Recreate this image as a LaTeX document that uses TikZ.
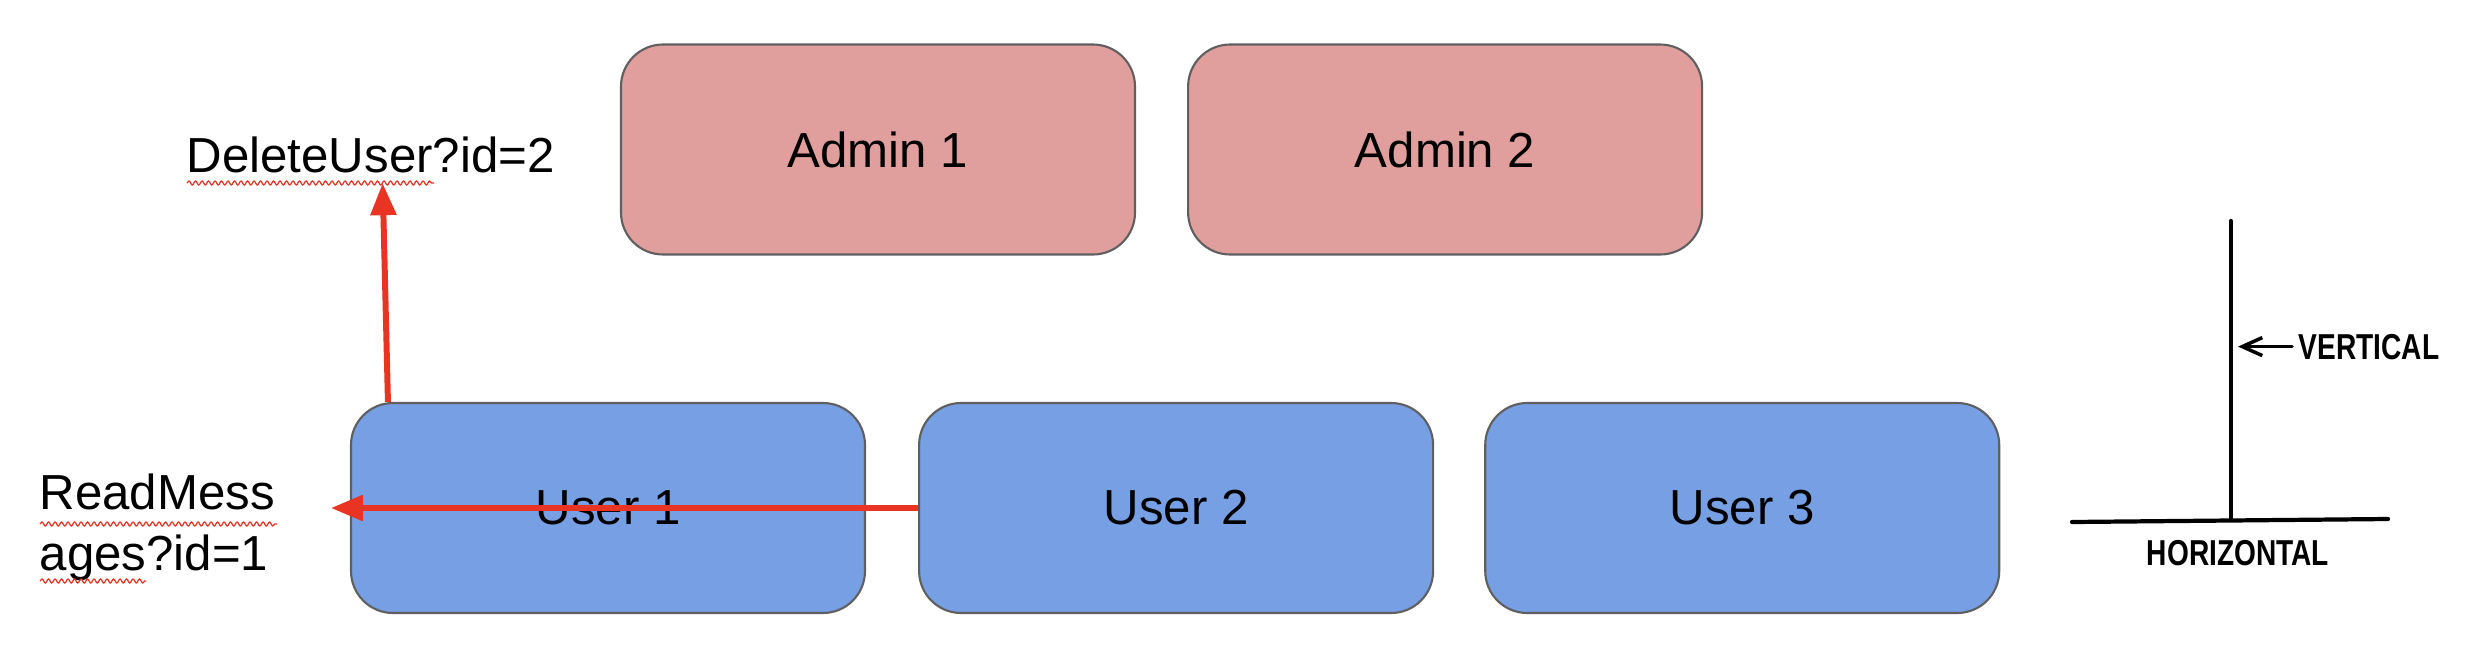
\documentclass[tikz,border=0pt]{standalone}
\usepackage{fontspec}
\setmainfont{Liberation Sans}
\newfontfamily\tagfont[FakeStretch=0.78]{Liberation Sans}
\usetikzlibrary{positioning,arrows.meta,decorations.pathmorphing}
\definecolor{adminred}{HTML}{E09E9C}
\definecolor{userblue}{HTML}{779FE4}
\definecolor{boxline}{HTML}{5F5F5F}
\definecolor{linkred}{HTML}{E93323}
\begin{document}
\begin{tikzpicture}[
  font=\fontsize{14}{17.2}\selectfont,
  role/.style={draw=boxline,line width=0.6pt,rounded corners=0.42cm,
    minimum width=5.14cm,minimum height=2.1cm,inner sep=0pt},
  admin/.style={role,fill=adminred},
  user/.style={role,fill=userblue},
  call/.style={inner sep=0pt,align=left},
  link/.style={draw=linkred,line width=1.7pt,-{Triangle[length=0.32cm,width=0.25cm]}},
  squiggle/.style={draw=linkred,line width=0.35pt,decorate,
    decoration={snake,amplitude=0.02cm,segment length=0.065cm}},
  axis/.style={draw=black,line width=1.2pt,line cap=round},
  pointer/.style={axis,line width=1pt,-{Straight Barb[length=0.2cm,width=0.18cm]}},
  tag/.style={inner sep=0pt,font=\tagfont\bfseries\fontsize{10.25}{12}\selectfont}]
\useasboundingbox (0,0) rectangle (24.66,6.66);
% roles
\node[admin] (admin1) at (8.78,5.165) {Admin 1};
\node[admin,right=0.51cm of admin1] (admin2) {Admin 2};
\node[user] (user1) at (6.08,1.58) {User 1};
\node[user,right=0.52cm of user1] (user2) {User 2};
\node[user,right=0.5cm of user2] (user3) {User 3};
% requests
\node[call,anchor=base west] (delete) at (1.86,4.94) {DeleteUser?id=2};
\node[call,anchor=base west] (read) at (0.39,0.96) {ReadMess\\ages?id=1};
\coordinate[left=0.19cm of user1.west] (readtip);
\draw[link] ([xshift=0.38cm]user1.north west) -- ([xshift=0.12cm,yshift=-0.1cm]delete.south);
\draw[link] (user2.west) -- (readtip);
\draw[squiggle] (1.87,4.83) -- (4.34,4.83);
\draw[squiggle] (0.40,1.42) -- (2.77,1.42);
\draw[squiggle] (0.40,0.85) -- (1.46,0.85);
% axes sketch
\coordinate (vtop) at (22.31,4.45);
\coordinate (vfoot) at (22.31,1.47);
\coordinate (hleft) at (20.72,1.44);
\coordinate (hright) at (23.88,1.47);
\draw[axis] (vtop) -- (vfoot);
\draw[axis] (hleft) -- (hright);
\node[tag,anchor=base west] (vlabel) at (22.98,3.07) {VERTICAL};
\node[tag,anchor=base] (hlabel) at (22.38,1.01) {HORIZONTAL};
\draw[pointer] ([xshift=-0.06cm]vlabel.west) -- ([xshift=0.07cm]vtop |- vlabel.west);
\end{tikzpicture}
\end{document}
